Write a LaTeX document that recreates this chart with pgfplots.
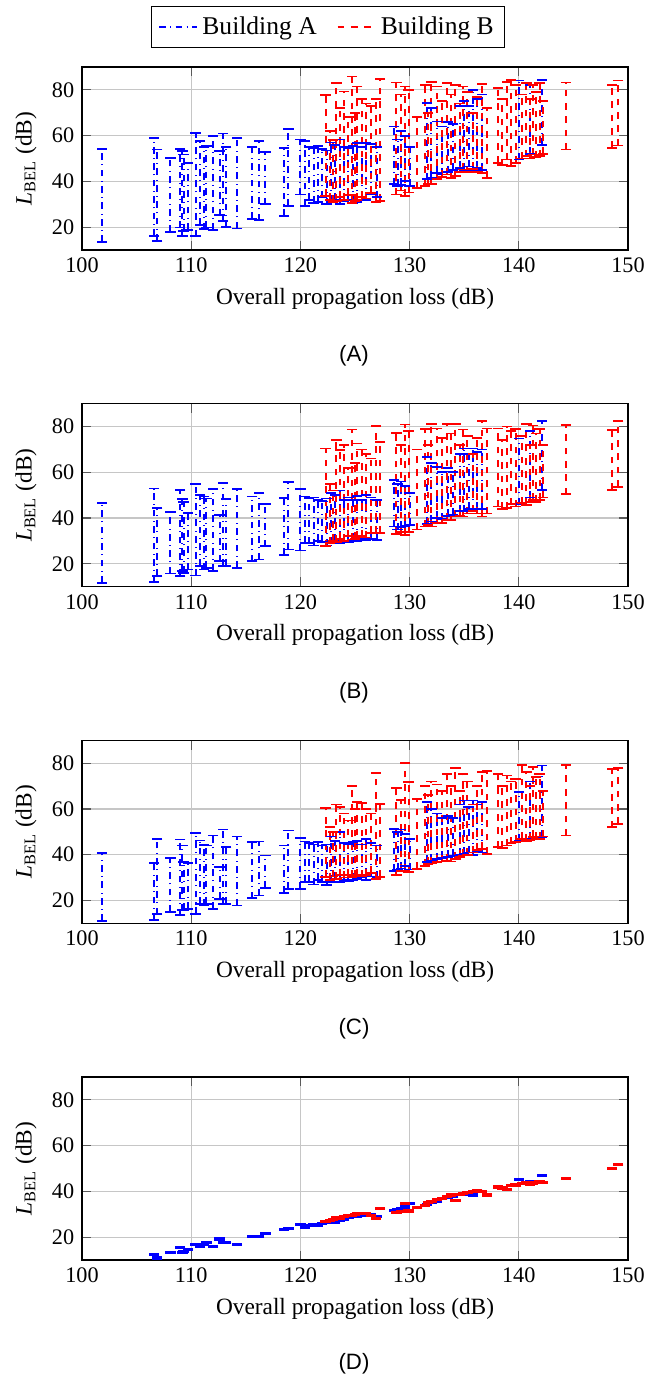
\documentclass[border=0pt]{standalone}
\usepackage{fontspec}
\setmainfont{Liberation Serif}
\newfontfamily\capfont{Liberation Sans}
\usepackage{pgfplots}
\usepackage{pgfplotstable}
\pgfplotsset{compat=1.18}

\pgfplotstableread{
x     loA  hiA  loB  hiB  loC  hiC  loD  hiD
101.8 13.5 54.2 11.7 46.5 11.0 40.7 7.7 8.3
106.6 16.2 58.8 12.0 52.9 11.6 36.3 12.1 12.7
106.9 14.0 53.9 14.6 44.3 14.0 47.0 10.6 11.2
108.1 17.8 50.3 15.8 42.6 15.0 38.5 12.8 13.4
109.0 19.8 54.2 14.6 52.3 13.5 46.7 15.0 15.6
109.2 16.2 53.2 16.8 48.3 15.7 44.0 12.8 13.4
109.3 18.4 51.7 16.0 47.0 16.0 36.8 13.5 14.1
109.7 18.8 48.1 17.5 42.2 16.4 36.5 14.2 14.8
110.4 16.0 61.2 14.9 54.8 14.2 49.4 16.4 17.0
110.8 20.9 57.5 19.0 50.1 18.6 46.2 15.7 16.3
111.2 19.1 55.0 17.5 49.4 17.8 44.3 16.4 17.0
111.4 19.8 55.6 18.2 48.5 18.6 44.0 17.2 17.8
112.0 18.8 59.7 16.8 52.7 16.4 48.4 15.7 16.3
112.6 25.2 53.2 21.1 41.4 20.8 34.6 18.9 19.5
112.9 22.7 60.9 19.0 55.2 18.6 51.0 17.5 18.1
113.2 20.1 55.0 19.0 48.3 18.6 43.3 17.2 17.8
114.2 19.4 59.0 18.3 52.7 17.8 48.0 16.4 17.0
115.6 23.5 55.0 21.1 49.4 21.0 45.5 19.8 20.4
116.2 23.0 57.5 21.9 50.9 22.2 45.8 20.0 20.6
116.8 30.0 52.7 27.7 46.2 25.6 39.7 21.3 21.9
118.5 24.9 54.6 24.0 48.7 23.2 44.0 23.0 23.6
118.9 29.3 62.9 26.2 55.6 25.1 50.6 23.3 23.9
120.0 34.3 58.3 25.8 52.6 25.1 47.2 25.2 25.8
120.4 29.3 57.5 29.1 49.4 28.0 45.8 24.1 24.7
120.8 32.0 55.0 29.0 48.7 28.0 45.0 24.7 25.3
121.2 30.5 54.5 28.0 49.0 27.0 44.5 25.2 25.8
121.6 31.0 55.5 30.0 48.0 29.0 45.5 24.9 25.5
122.0 33.0 54.0 29.5 47.5 28.0 44.0 25.7 26.3
122.4 30.0 53.5 28.0 48.5 26.6 44.5 26.0 26.6
122.8 31.0 57.0 29.0 51.0 28.0 48.0 26.7 27.3
123.2 32.0 56.0 30.0 50.0 29.5 46.0 26.2 26.8
123.6 30.0 58.3 29.0 52.0 28.0 50.0 26.9 27.5
124.0 31.5 55.0 30.0 48.0 29.0 45.0 27.5 28.1
124.4 32.0 54.6 29.5 49.0 28.5 44.8 28.2 28.8
124.8 30.5 55.5 30.5 48.0 29.0 45.5 28.9 29.5
125.2 31.0 56.8 30.0 49.5 29.5 46.0 28.7 29.3
125.6 33.0 55.0 31.0 48.0 30.0 44.5 29.7 30.3
126.0 32.0 56.8 30.5 50.0 29.0 47.0 29.3 29.9
126.5 34.3 56.5 31.0 49.0 30.5 45.0 29.6 30.2
127.0 33.0 55.0 30.5 48.0 30.0 44.0 28.6 29.2
128.6 38.7 64.0 36.3 56.7 33.0 51.3 31.4 32.0
128.9 38.0 58.3 35.0 55.0 33.5 50.0 31.9 32.5
129.2 38.5 62.0 36.0 56.0 34.0 51.0 32.3 32.9
129.6 40.0 60.0 36.5 54.0 35.0 49.0 32.9 33.5
130.0 38.0 55.0 37.0 51.0 33.5 47.0 34.3 34.9
131.6 40.9 74.2 37.5 66.8 36.8 63.0 33.9 34.5
132.0 41.5 72.0 38.5 64.0 37.5 60.0 34.7 35.3
132.5 43.8 66.2 40.0 62.4 38.0 58.0 35.3 35.9
133.0 43.0 64.0 39.5 60.0 38.5 56.0 36.7 37.3
133.5 44.0 66.0 41.0 62.0 39.0 57.0 37.0 37.6
134.0 45.0 65.0 41.5 60.0 39.5 56.0 37.7 38.3
134.6 46.0 72.8 43.0 68.0 40.0 62.0 38.2 38.8
135.0 45.0 75.0 43.0 70.4 40.5 63.7 38.4 39.0
135.4 46.5 73.0 44.0 68.0 41.0 61.0 38.7 39.3
135.8 45.0 80.0 43.0 70.4 40.0 63.7 38.1 38.7
136.2 46.0 76.0 44.0 69.0 41.5 62.0 40.2 40.8
136.6 45.0 78.0 44.0 70.0 41.0 63.0 39.7 40.3
140.0 49.6 84.1 46.0 74.8 46.2 67.3 45.0 45.6
141.0 52.0 82.0 49.0 78.0 47.0 72.0 44.2 44.8
142.1 56.0 84.3 52.3 82.4 47.7 79.0 46.5 47.1
}\bldA

\pgfplotstableread{
x     loA  hiA  loB  hiB  loC  hiC  loD  hiD
122.3 33.6 77.8 27.7 70.4 30.2 60.3 26.4 27.0
122.7 32.0 62.0 29.0 55.0 29.0 52.0 26.9 27.5
123.0 31.0 58.0 30.0 52.0 30.5 50.0 27.5 28.1
123.3 31.4 82.9 29.5 74.0 29.5 62.0 28.2 28.8
123.6 33.0 72.0 31.0 69.7 31.0 61.0 27.7 28.3
124.0 32.0 79.3 30.0 72.0 30.0 58.0 28.7 29.3
124.4 34.0 68.0 32.0 62.0 31.0 55.0 29.2 29.8
124.7 30.7 85.8 30.6 78.7 30.2 70.2 29.0 29.6
125.0 31.5 70.0 31.0 64.0 30.5 60.0 29.5 30.1
125.2 32.0 81.5 31.5 72.6 31.0 63.0 29.9 30.5
125.6 33.0 76.0 32.0 70.0 30.5 62.5 30.2 30.8
126.0 32.5 74.0 31.5 68.0 31.0 60.0 29.9 30.5
126.5 35.0 73.0 33.5 66.0 32.0 58.0 29.2 29.8
126.9 31.0 76.0 33.5 80.3 29.5 75.6 27.7 28.3
127.3 31.4 84.6 33.5 73.3 30.2 62.2 32.3 32.9
128.8 34.3 83.2 33.0 77.2 31.0 69.0 30.4 31.0
129.2 36.0 78.0 34.0 72.0 33.0 64.0 30.9 31.5
129.6 33.6 81.5 32.7 80.9 33.0 80.0 34.3 34.9
129.9 35.1 80.0 34.0 78.0 32.4 71.7 31.1 31.7
130.7 37.0 68.0 35.0 70.0 33.9 64.4 32.6 33.2
131.4 38.0 82.2 36.3 79.0 35.0 70.0 33.7 34.3
131.7 39.0 70.0 37.0 72.0 36.0 66.0 34.7 35.3
132.0 38.7 83.6 36.3 81.0 36.2 72.0 35.2 35.8
132.5 40.9 81.5 37.8 79.1 36.8 70.7 36.2 36.8
133.0 42.0 75.0 38.0 75.0 37.0 68.0 36.7 37.3
133.4 43.0 82.9 39.3 81.0 37.5 75.3 37.3 37.9
133.8 41.5 78.0 39.0 77.0 37.0 70.0 38.1 38.7
134.2 42.3 82.2 40.7 81.0 38.2 78.0 35.7 36.3
134.6 44.0 74.0 41.0 72.0 39.0 68.0 38.2 38.8
134.9 45.2 81.5 40.7 78.7 39.7 75.3 38.7 39.3
135.3 44.0 79.0 42.0 76.0 40.0 72.0 39.2 39.8
135.8 45.5 70.0 43.0 68.0 41.0 62.0 39.6 40.2
136.2 44.0 77.0 42.0 75.0 42.0 70.0 40.0 40.6
136.6 43.8 82.6 40.7 82.3 42.6 76.0 39.8 40.4
137.1 41.6 72.0 42.0 79.1 40.4 76.5 38.1 38.7
138.1 48.1 80.7 45.0 79.1 43.3 75.3 41.6 42.2
138.5 47.0 76.0 44.0 74.0 43.0 70.0 41.2 41.8
138.9 49.6 83.6 44.3 80.0 44.0 74.6 40.6 41.2
139.3 46.7 84.3 46.0 78.0 45.0 72.0 42.1 42.7
139.7 48.0 82.0 45.0 79.0 45.5 73.0 42.5 43.1
140.3 50.0 78.0 46.5 76.0 47.0 79.3 43.2 43.8
140.7 51.0 82.9 45.8 81.0 46.0 76.0 43.5 44.1
141.0 50.0 76.0 47.0 72.0 46.5 70.0 42.9 43.5
141.3 51.7 82.2 48.0 80.5 47.7 78.3 43.1 43.7
141.6 50.5 79.0 47.0 77.0 47.0 74.0 43.6 44.2
141.9 51.0 82.9 48.0 79.0 47.0 75.3 44.0 44.6
142.2 52.0 75.0 49.0 72.0 48.0 68.0 43.5 44.1
144.3 53.9 83.2 50.4 80.6 48.4 79.3 45.3 45.9
148.5 54.6 82.2 52.3 78.4 52.0 77.5 49.7 50.3
149.1 55.7 84.1 53.7 82.3 53.5 77.8 51.3 51.9
}\bldB

\pgfplotsset{
  panel/.style={
    width=245.7pt, height=82.35pt, scale only axis,
    anchor=north west,
    xmin=100, xmax=150, ymin=10, ymax=90,
    xtick={100,110,...,150}, ytick={20,40,60,80},
    grid=major, grid style={gray!45, line width=0.5pt},
    major tick style={gray!70!black, line width=0.5pt},
    axis line style={black, line width=0.6pt},
    /pgf/number format/assume math mode=true,
    ticklabel style={font=\rmfamily\fontsize{10}{12}\selectfont},
    label style={font=\rmfamily\fontsize{10.5}{12}\selectfont},
    xlabel={Overall propagation loss (dB)},
    ylabel={\textit{L}\textsubscript{BEL} (dB)},
  },
}

% #1 table, #2 panel suffix, #3 colour, #4 dash style
\newcommand{\bars}[4]{%
  \addplot[draw=#3, color=#3, #4, line width=0.9pt, forget plot,
    quiver={u=0, v={\thisrow{hi#2}-\thisrow{lo#2}}}] table[x=x, y=lo#2] {#1};
  \addplot[#3, only marks, mark=-, mark size=2.3pt,
    mark options={solid, draw=#3, line width=0.8pt}, forget plot] table[x=x, y=lo#2] {#1};
  \addplot[#3, only marks, mark=-, mark size=2.3pt,
    mark options={solid, draw=#3, line width=0.8pt}, forget plot] table[x=x, y=hi#2] {#1};
}

\begin{document}
\begin{tikzpicture}
\useasboundingbox (0,0) rectangle (290.25pt,-620.1pt);

\begin{axis}[panel, at={(36.9pt,-30.15pt)},
  legend style={at={(0.451,1)}, anchor=south, yshift=8.5pt, draw=black,
    font=\rmfamily\fontsize{11.5}{13}\selectfont, legend columns=2,
    inner ysep=2.5pt,
    /tikz/every even column/.append style={column sep=7pt}}]
\addlegendimage{blue, dash dot, line width=0.8pt}\addlegendentry{Building A}
\addlegendimage{red, dashed, line width=0.8pt}\addlegendentry{Building B}
\bars{\bldA}{A}{blue}{dash dot}
\bars{\bldB}{A}{red}{dashed}
\end{axis}

\begin{axis}[panel, at={(36.9pt,-181.65pt)}]
\bars{\bldA}{B}{blue}{dash dot}
\bars{\bldB}{B}{red}{dashed}
\end{axis}

\begin{axis}[panel, at={(36.9pt,-333.15pt)}]
\bars{\bldA}{C}{blue}{dash dot}
\bars{\bldB}{C}{red}{dashed}
\end{axis}

\begin{axis}[panel, at={(36.9pt,-484.65pt)}]
\bars{\bldA}{D}{blue}{dash dot}
\bars{\bldB}{D}{red}{dashed}
\end{axis}

\node[font=\capfont\fontsize{10}{12}\selectfont] at (159.3pt,-160pt) {(A)};
\node[font=\capfont\fontsize{10}{12}\selectfont] at (159.3pt,-311.6pt) {(B)};
\node[font=\capfont\fontsize{10}{12}\selectfont] at (159.3pt,-462.9pt) {(C)};
\node[font=\capfont\fontsize{10}{12}\selectfont] at (159.3pt,-613.6pt) {(D)};
\end{tikzpicture}
\end{document}
